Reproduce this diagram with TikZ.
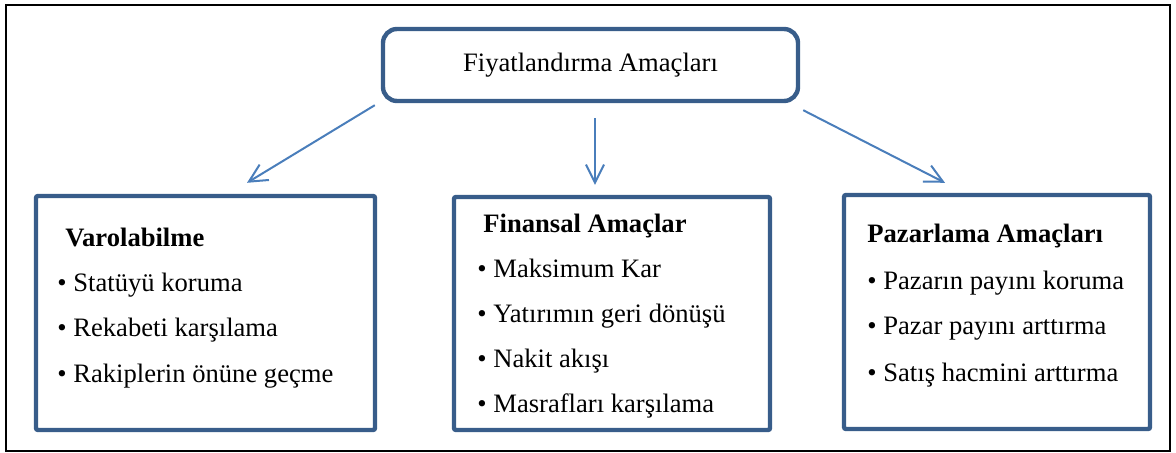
\documentclass[tikz,border=0pt]{standalone}
\usepackage{fontspec}
\setmainfont{Liberation Serif}
\usetikzlibrary{calc, arrows.meta}
\definecolor{boxblue}{RGB}{56,93,138}
\definecolor{arrowblue}{RGB}{74,126,187}

\begin{document}
\begin{tikzpicture}[x=0.5pt, y=-0.5pt, font=\fontsize{13.3}{16}\selectfont,
	goal/.style={draw=boxblue, line width=2.2pt, rounded corners=1pt, inner sep=0pt},
	item/.style={anchor=base west, inner sep=0pt},
	link/.style={draw=arrowblue, line width=1pt, -{Straight Barb[length=9pt, width=9pt]}}]
	
	\useasboundingbox (0,0) rectangle (1176,453);
	\draw[line width=1pt] (6,5) rectangle (1170,451);
	
	% main box
	\node[goal, rounded corners=7pt, minimum width=207.5pt, minimum height=36pt] (top) at (590.5,65) {Fiyatlandırma Amaçları};
	
	% three goal boxes
	\node[goal, minimum width=169.5pt, minimum height=117pt] (var) at (205.5,313) {};
	\node[goal, minimum width=158pt, minimum height=116.5pt] (fin) at (612,313.5) {};
	\node[goal, minimum width=153pt, minimum height=117pt] (paz) at (997,312) {};
	
	\node[item] (var0) at (65,247) {\textbf{Varolabilme}};
	\node[item] (var1) at (57,292) {• Statüyü koruma};
	\node[item] (var2) at (57,337) {• Rekabeti karşılama};
	\node[item] (var3) at (57,383) {• Rakiplerin önüne geçme};
	
	\node[item] (fin0) at (483,233) {\textbf{Finansal Amaçlar}};
	\node[item] (fin1) at (477,278) {• Maksimum Kar};
	\node[item] (fin2) at (477,323) {• Yatırımın geri dönüşü};
	\node[item] (fin3) at (477,368) {• Nakit akışı};
	\node[item] (fin4) at (477,413) {• Masrafları karşılama};
	
	\node[item] (paz0) at (867,243) {\textbf{Pazarlama Amaçları}};
	\node[item] (paz1) at (867,290) {• Pazarın payını koruma};
	\node[item] (paz2) at (867,335) {• Pazar payını arttırma};
	\node[item] (paz3) at (867,382) {• Satış hacmini arttırma};
	
	% arrows
	\coordinate (l1) at ($(top.south west)+(-6,2)$);
	\coordinate (l2) at ($(var.north)+(41.5,-11)$);
	\coordinate (m1) at ($(top.south)+(4.5,15)$);
	\coordinate (m2) at ($(fin.north)+(-17,-10)$);
	\coordinate (r1) at ($(top.south east)+(3,7)$);
	\coordinate (r2) at ($(paz.north)+(-52,-10)$);
	\draw[link] (l1) -- (l2);
	\draw[link] (m1) -- (m2);
	\draw[link] (r1) -- (r2);
	
\end{tikzpicture}
\end{document}
